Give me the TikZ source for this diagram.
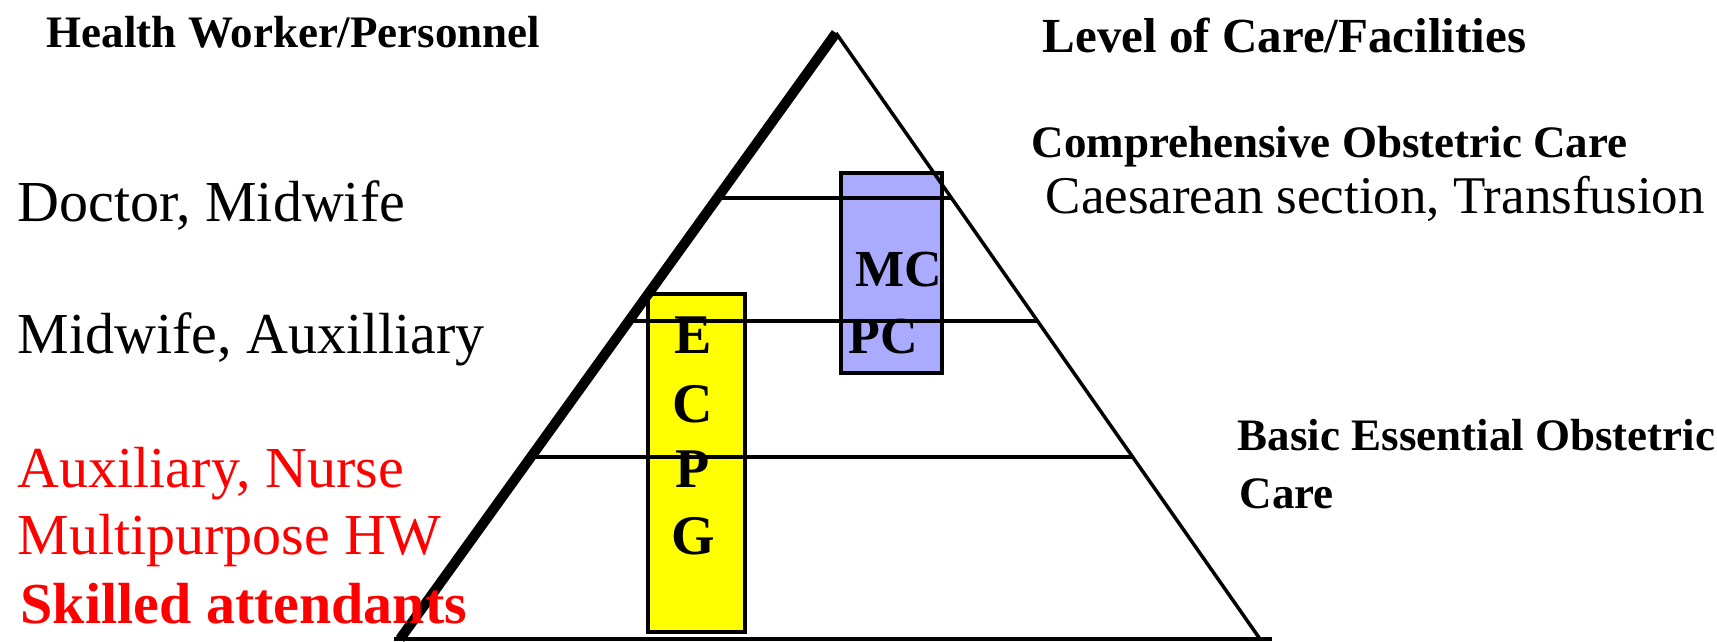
\documentclass[tikz,border=0pt]{standalone}
\usepackage{fontspec}
\setmainfont{Liberation Serif}
\usetikzlibrary{calc}
\definecolor{ecpgyellow}{RGB}{255,255,0}
\definecolor{mcpcblue}{RGB}{170,170,255}
\definecolor{hwred}{RGB}{255,0,0}
\newcommand{\fsz}[1]{\fontsize{#1}{#1}\selectfont}
\begin{document}
\begin{tikzpicture}[x=1pt, y=-1pt, line width=3.5pt,
    lbl/.style={inner sep=0pt, anchor=base west},
    letter/.style={inner sep=0pt, anchor=base, font=\fsz{56}\bfseries}]
  \useasboundingbox (0,0) rectangle (1717,641);
  % 三角形
  \coordinate (apex) at (836,33);
  \coordinate (bl) at (400,639);
  \coordinate (br) at (1260,639);
  % ECPG 方框
  \draw[fill=ecpgyellow] (648,294) rectangle (745,632);
  % MCPC 方框
  \draw[fill=mcpcblue] (841,173) rectangle (942,373);
  % 分层横线
  \foreach \t/\n in {0.2723/1, 0.4752/2, 0.6997/3}
    \draw ($(apex)!\t!(bl)$) coordinate (l\n) -- ($(apex)!\t!(br)$) coordinate (r\n);
  \draw (apex) -- (br);
  \draw[line width=10pt] (apex) -- (bl);
  \draw[line width=4pt] ([xshift=-6pt]bl) -- ([xshift=12pt]br);
  % 左边：人员
  \node[lbl, font=\fsz{45}\bfseries] (hw) at (45,47) {Health Worker/Personnel};
  \node[lbl, font=\fsz{58}] (doc) at (16,221) {Doctor, Midwife};
  \node[lbl, font=\fsz{58}] (mw) at (16,353) {Midwife, Auxilliary};
  \node[lbl, font=\fsz{58}, text=hwred] (aux) at (16,487) {Auxiliary, Nurse};
  \node[lbl, font=\fsz{58}, text=hwred] (mp) at (16,554) {Multipurpose HW};
  \node[lbl, font=\fsz{58}\bfseries, text=hwred] (sa) at (19,623) {Skilled attendants};
  % 右边：机构
  \node[lbl, font=\fsz{49}\bfseries] (loc) at (1041,52) {Level of Care/Facilities};
  \node[lbl, font=\fsz{45}\bfseries] (ceoc) at (1030,157) {Comprehensive Obstetric Care};
  \node[lbl, font=\fsz{53}] (cs) at (1044,213) {Caesarean section, Transfusion};
  \node[lbl, font=\fsz{45}\bfseries] (beoc) at (1236,450) {Basic Essential Obstetric};
  \node[lbl, font=\fsz{45}\bfseries] (care) at (1238,508) {Care};
  % 方框里的字母
  \node[lbl, font=\fsz{52}\bfseries] (mc) at (854,286) {MC};
  \node[lbl, font=\fsz{52}\bfseries] (pc) at (847,353) {PC};
  \foreach \l/\yb in {E/353, C/422, P/487, G/554}
    \node[letter] (ecpg\l) at (693,\yb) {\l};
\end{tikzpicture}
\end{document}
